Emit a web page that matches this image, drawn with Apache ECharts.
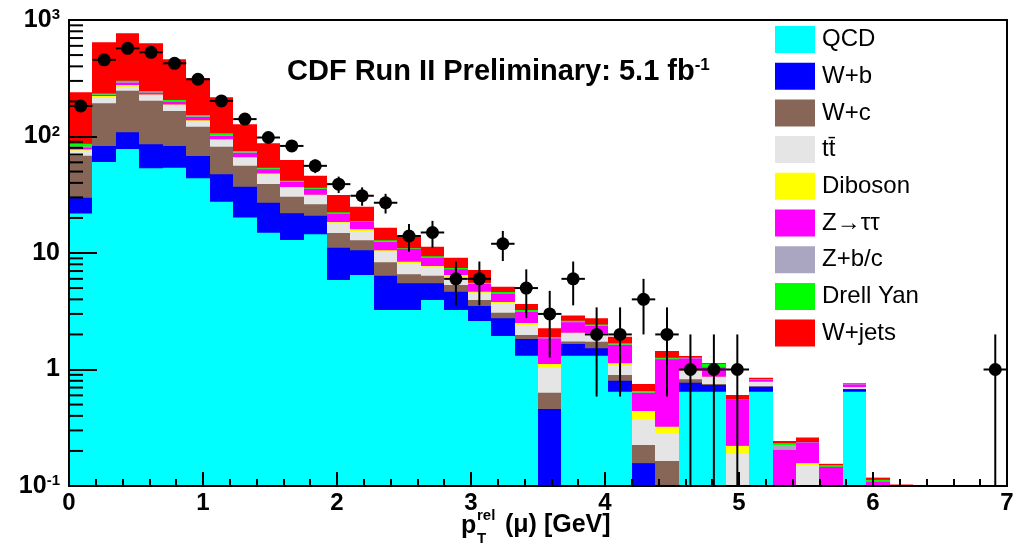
<!DOCTYPE html>
<html>
<head>
<meta charset="utf-8">
<script src="https://cdn.jsdelivr.net/npm/echarts@6/dist/echarts.min.js"></script>
<style>
  html, body { margin: 0; padding: 0; background: #fff; }
  #chart { width: 1018px; height: 544px; }
</style>
</head>
<body>
<div id="chart"></div>
<script>
// binning of p_T^rel: 40 bins of 0.175 GeV from 0 to 7
const nBins = 40;
const xLo = 0;
const binW = 0.175;
const yMin = 0.1, yMax = 1000;

// observed events per bin
const dataCounts = [183, 455, 571, 528, 425, 310, 202, 141, 98, 83, 56, 39, 31, 27, 14, 15, 6, 6, 12, 5,
  3, 6, 2, 2, 4, 2, 1, 1, 1, 0, 0, 0, 0, 0, 0, 0, 0, 0, 0, 1];

// expected events per process (stacked bottom to top)
const qcd = [21.8, 60.4, 78.1, 53.3, 54.0, 43.8, 27.6, 20.2, 14.9, 12.9, 14.5, 5.87, 6.47, 3.24, 3.24, 3.95, 3.24, 2.61, 1.94, 1.31,
  0, 1.31, 1.31, 0.645, 0, 0, 0.645, 0.645, 0, 0.645, 0, 0, 0, 0.645, 0, 0, 0, 0, 0, 0];
const wb = [8.0, 22.5, 30.6, 32.4, 28.9, 24.2, 19.8, 16.9, 12.1, 9.0, 6.4, 5.2, 4.1, 3.15, 2.25, 1.54, 1.41, 0.9, 0.81, 0.52,
  0.458, 0.345, 0.21, 0.155, 0.157, 0, 0.125, 0.091, 0, 0.067, 0, 0, 0, 0.031, 0, 0, 0, 0, 0, 0];
const wc = [38.6, 109.9, 138.5, 117.2, 82.6, 53.4, 34.3, 19.1, 12.1, 8.5, 5.3, 3.8, 2.3, 1.93, 1.07, 0.9, 0.66, 0.44, 0.32, 0.15,
  0.174, 0.085, 0.21, 0.097, 0.068, 0.164, 0.054, 0.015, 0, 0.005, 0, 0, 0, 0.004, 0, 0, 0, 0, 0, 0];
const ttbar = [7.4, 21.3, 20.4, 22.9, 20.9, 14.4, 11.6, 9.6, 8.3, 6.0, 5.1, 3.3, 2.6, 1.94, 1.53, 1.24, 0.95, 0.61, 0.63, 0.41,
  0.398, 0.3, 0.31, 0.175, 0.151, 0.119, 0.133, 0.111, 0.191, 0.064, 0, 0.149, 0, 0.018, 0, 0, 0, 0, 0, 0];
const diboson = [1.5, 8.5, 9.2, 3.6, 1.9, 1.9, 1.3, 0.5, 0.7, 0.5, 0.4, 0.3, 0.5, 0.29, 0.33, 0.1, 0.21, 0.09, 0.1, 0.12,
  0.085, 0.03, 0.02, 0.058, 0.064, 0.04, 0.023, 0.005, 0.03, 0.005, 0, 0.008, 0, 0.01, 0, 0, 0, 0, 0, 0];
const ztautau = [3.2, 4.5, 12.8, 8.3, 10.6, 9.4, 6.4, 5.9, 4.2, 3.8, 3.7, 3.3, 2.5, 1.88, 2.38, 1.38, 0.78, 0.77, 0.67, 0.62,
  0.73, 0.47, 0.3, 0.49, 0.189, 0.9, 0.263, 0.177, 0.334, 0.027, 0.204, 0.079, 0.146, 0.035, 0.109, 0.098, 0, 0, 0, 0];
const zbc = [1.6, 2.3, 4.1, 1.9, 1.6, 2.0, 1.4, 1.0, 0.6, 0.4, 0.2, 0.2, 0.1, 0.17, 0.1, 0.08, 0.04, 0.05, 0.04, 0.05,
  0.02, 0.03, 0.03, 0.02, 0.006, 0.015, 0.012, 0.006, 0.001, 0.005, 0.021, 0.001, 0, 0.008, 0.001, 0, 0, 0, 0, 0];
const drellyan = [4.7, 4.5, 7.6, 6.2, 5.3, 3.8, 4.1, 1.9, 1.1, 0.6, 0.8, 0.4, 0.2, 0.25, 0.1, 0.18, 0.14, 0.09, 0.12, 0.06,
  0.036, 0.05, 0.04, 0.04, 0.019, 0.025, 0.013, 0.071, 0.003, 0.011, 0.008, 0.001, 0.005, 0.004, 0.003, 0, 0, 0, 0, 0];
const wjets = [152.7, 409.7, 467.5, 385.2, 254.1, 163.0, 110.5, 52.1, 33.4, 21.1, 9.7, 9.1, 6.2, 3.65, 3.1, 1.96, 1.68, 1.59, 0.51, 0.41,
  0.36, 0.29, 0.32, 0.23, 0.097, 0.18, 0.038, 0.016, 0.046, 0.021, 0.01, 0.023, 0.004, 0.006, 0.005, 0.005, 0, 0, 0, 0];

const processNames = ['QCD', 'W+b', 'W+c', 'tt\u0304', 'Diboson', 'Z\u2192\u03c4\u03c4', 'Z+b/c', 'Drell Yan', 'W+jets'];
const processValues = [qcd, wb, wc, ttbar, diboson, ztautau, zbc, drellyan, wjets];
const processColors = ['#00ffff', '#0000ff', '#876657', '#e5e5e5', '#ffff00', '#ff00ff', '#aaa6c2', '#00ff00', '#ff0000'];

// y axis labels 10^-1 .. 10^3
const yTickLabels = { '-1': '{b|10}{s|-1}', '0': '{b|1}', '1': '{b|10}', '2': '{b|10}{s|2}', '3': '{b|10}{s|3}' };

const font = 'Liberation Sans, Arial, Helvetica, sans-serif';

// each layer is drawn from the axis floor up to its cumulative top,
// upper layers first so lower ones paint over them (no seams)
function renderLayer(params, api) {
  const top = api.value(2);
  if (top <= yMin) return;
  const a = api.coord([api.value(0), yMin]);
  const b = api.coord([api.value(1), Math.min(top, yMax)]);
  const x0 = Math.round(a[0]), x1 = Math.round(b[0]);
  return {
    type: 'rect',
    shape: { x: x0, y: b[1], width: x1 - x0, height: a[1] - b[1] },
    style: { fill: api.visual('color') }
  };
}

let cum = new Array(nBins).fill(0);
const layerSeries = processNames.map((name, k) => {
  const vals = processValues[k];
  const rows = [];
  for (let i = 0; i < nBins; i++) {
    cum[i] += vals[i];
    if (vals[i] > 0) rows.push([xLo + i * binW, xLo + (i + 1) * binW, cum[i]]);
  }
  return {
    name: name,
    type: 'custom',
    renderItem: renderLayer,
    data: rows,
    encode: { x: [0, 1], y: 2 },
    itemStyle: { color: processColors[k] },
    z: 20 - k,
    silent: true
  };
});

// data points with sqrt(N) error bars
const points = [];
for (let i = 0; i < nBins; i++) {
  if (dataCounts[i] > 0) points.push([xLo + (i + 0.5) * binW, dataCounts[i], Math.sqrt(dataCounts[i])]);
}

function renderErr(params, api) {
  const x = api.value(0), n = api.value(1), e = api.value(2);
  const lo = Math.max(n - e, yMin);
  const pTop = api.coord([x, n + e]);
  const pBot = api.coord([x, lo]);
  const pL = api.coord([x - binW / 2, n]);
  const pR = api.coord([x + binW / 2, n]);
  const st = { stroke: '#000', lineWidth: 2 };
  return {
    type: 'group',
    children: [
      { type: 'line', shape: { x1: pTop[0], y1: pTop[1], x2: pBot[0], y2: pBot[1] }, style: st },
      { type: 'line', shape: { x1: pL[0], y1: pL[1], x2: pR[0], y2: pR[1] }, style: st }
    ]
  };
}

// minor ticks of the log axis at 2..9 x 10^k
const yMinorTicks = [];
for (let k = -1; k < 3; k++) {
  for (let m = 2; m <= 9; m++) yMinorTicks.push([0, m * Math.pow(10, k)]);
}

function renderMinor(params, api) {
  const p = api.coord([api.value(0), api.value(1)]);
  return {
    type: 'line',
    shape: { x1: p[0], y1: p[1], x2: p[0] + 14, y2: p[1] },
    style: { stroke: '#000', lineWidth: 2 }
  };
}

const chart = echarts.init(document.getElementById('chart'));

const option = {
  animation: false,
  backgroundColor: '#fff',
  title: {
    text: '{m|CDF Run II Preliminary: 5.1 fb}{s|-1}',
    left: 282,
    top: 52,
    textStyle: {
      rich: {
        m: { fontSize: 29, fontWeight: 'bold', fontFamily: font, color: '#000' },
        s: { fontSize: 17, fontWeight: 'bold', fontFamily: font, color: '#000', verticalAlign: 'top' }
      }
    }
  },
  legend: {
    orient: 'vertical',
    left: 770,
    top: 21,
    itemWidth: 40,
    itemHeight: 27,
    itemGap: 9.7,
    icon: 'rect',
    selectedMode: false,
    data: processNames,
    textStyle: { fontSize: 24, fontFamily: font, color: '#000', padding: [0, 0, 0, 2] }
  },
  grid: {
    left: 69, top: 20, width: 938, height: 466,
    show: true, borderColor: '#000', borderWidth: 2, backgroundColor: 'transparent'
  },
  xAxis: {
    type: 'value',
    min: 0, max: 7, interval: 1,
    z: 40,
    axisLine: { lineStyle: { color: '#000', width: 2 } },
    axisTick: { inside: true, length: 14, lineStyle: { color: '#000', width: 2 } },
    minorTick: { show: true, splitNumber: 5, length: 7, lineStyle: { color: '#000', width: 2 } },
    splitLine: { show: false },
    axisLabel: { margin: 5, fontSize: 24, fontWeight: 'bold', fontFamily: font, color: '#000' }
  },
  yAxis: {
    type: 'log',
    logBase: 10,
    min: yMin, max: yMax,
    z: 40,
    axisLine: { lineStyle: { color: '#000', width: 2 } },
    axisTick: { inside: true, length: 28, lineStyle: { color: '#000', width: 2 } },
    splitLine: { show: false },
    axisLabel: {
      margin: 9,
      formatter: v => yTickLabels[String(Math.round(Math.log10(v)))] || '',
      rich: {
        b: { fontSize: 25, fontWeight: 'bold', fontFamily: font, color: '#000' },
        s: { fontSize: 15, fontWeight: 'bold', fontFamily: font, color: '#000', verticalAlign: 'top' }
      }
    }
  },
  graphic: [
    { type: 'text', left: 461, top: 514, style: { text: 'p', font: 'bold 25px ' + font, fill: '#000' } },
    { type: 'text', left: 477, top: 508, style: { text: 'rel', font: 'bold 15px ' + font, fill: '#000' } },
    { type: 'text', left: 477, top: 531, style: { text: 'T', font: 'bold 15px ' + font, fill: '#000' } },
    { type: 'text', left: 505, top: 513, style: { text: '(\u03bc) [GeV]', font: 'bold 25px ' + font, fill: '#000' } }
  ],
  series: layerSeries.concat([
    {
      name: 'errors',
      type: 'custom',
      renderItem: renderErr,
      data: points,
      encode: { x: 0, y: 1 },
      z: 30,
      silent: true
    },
    {
      name: 'Data',
      type: 'scatter',
      data: points.map(p => [p[0], p[1]]),
      symbol: 'circle',
      symbolSize: 13,
      itemStyle: { color: '#000', opacity: 1 },
      z: 31,
      silent: true
    },
    {
      name: 'minorTicks',
      type: 'custom',
      renderItem: renderMinor,
      data: yMinorTicks,
      encode: { x: 0, y: 1 },
      z: 45,
      silent: true
    }
  ])
};

chart.setOption(option);
</script>
</body>
</html>
